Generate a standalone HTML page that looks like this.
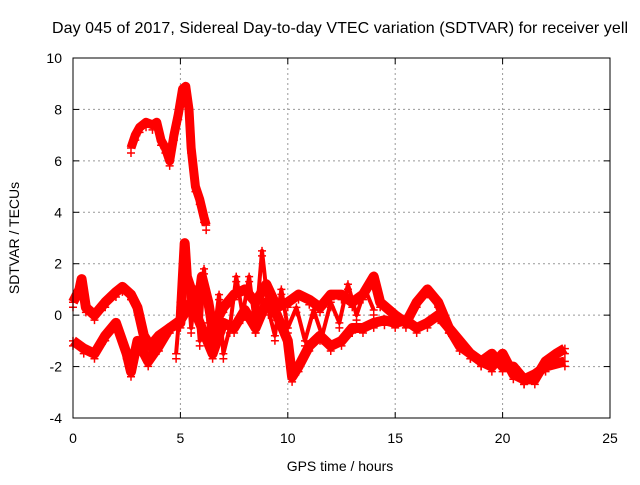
<!DOCTYPE html>
<html><head><meta charset="utf-8"><style>
body{margin:0;background:#fff}
svg text{font-family:"Liberation Sans",sans-serif;font-size:14px;fill:#000}
</style></head><body>
<svg id="chart" width="640" height="480" viewBox="0 0 640 480">
<rect width="640" height="480" fill="#fff"/>
<text x="340" y="33" text-anchor="middle" style="font-size:16px" textLength="576">Day 045 of 2017, Sidereal Day-to-day VTEC variation (SDTVAR) for receiver yell</text>
<g id="grid"></g>
<g id="series"></g>
<rect x="73" y="58" width="537" height="360" fill="none" stroke="#000" stroke-width="1"/>
<g id="ticks"></g>
<text x="340" y="471" text-anchor="middle">GPS time / hours</text>
<text transform="translate(19,238) rotate(-90)" text-anchor="middle">SDTVAR / TECUs</text>
</svg>
<script>
const xTicks=[0,5,10,15,20,25];
const yTicks=[-4,-2,0,2,4,6,8,10];
const band1T=[0,0.3,0.4,0.6,1,1.5,2,2.3,2.7,3,3.3,3.6,4,4.5,5,5.2,5.3,5.5,5.8,6,6.3,6.5,7,7.5,8,8.5,9,9.5,10,10.5,11,11.5,12,12.5,13,13.5,14,14.3,15,15.5,16,16.5,17,17.5,18,18.5,19,19.5,20,20.5,21,21.5,22,22.5,22.9];
const band1V=[0.5,1.0,1.4,0.3,0.0,0.5,0.9,1.1,0.8,0.3,-0.8,-1.2,-0.8,-0.5,-0.3,2.8,1.5,1.0,0.2,1.5,0.5,-0.5,0.3,0.8,1.0,0.5,1.2,0.3,0.5,0.8,0.6,0.3,0.8,0.8,0.5,0.8,1.5,0.5,0,-0.3,0.5,1.0,0.5,-0.5,-1.0,-1.5,-1.8,-1.5,-2.0,-2.0,-2.5,-2.5,-1.8,-1.5,-1.3];
const band2T=[0,0.5,1,1.5,2,2.5,2.7,3,3.5,4,4.5,5,5.5,6,6.5,7,7.5,8,8.5,9,9.5,10,10.2,10.5,11,11.5,12,12.5,13,13.5,14,14.5,15,15.5,16,16.5,17,17.5,18,18.5,19,19.5,20,20.5,21,21.5,22,22.9];
const band2V=[-1.0,-1.3,-1.5,-0.8,-0.3,-1.5,-2.2,-1.0,-1.8,-1.2,-0.5,-0.2,0.5,-0.5,-1.5,-0.3,-0.5,0.2,-0.5,0.5,0,-1.0,-2.4,-2.0,-1.2,-0.8,-1.2,-1.0,-0.5,-0.5,-0.3,-0.2,-0.3,-0.2,-0.5,-0.3,0.0,-0.5,-1.2,-1.5,-1.8,-2.0,-1.5,-2.3,-2.5,-2.3,-2.0,-1.8];
const band3T=[2.7,2.9,3.1,3.4,3.7,3.9,4.1,4.3,4.5,4.7,4.9,5.1,5.25,5.4,5.5,5.7,5.9,6.1,6.2];
const band3V=[6.5,7.0,7.3,7.5,7.4,7.5,6.8,6.5,6.0,7.0,7.8,8.8,8.9,8.0,6.5,5.0,4.5,3.8,3.5];
const band4T=[4.8,5.0,5.3,5.5,5.7,5.9,6.1,6.3,6.5,6.8,7.0,7.3,7.6,7.9,8.2,8.5,8.8,9.1,9.4,9.7,10.0,10.4,10.8,11.2,11.6,12.0,12.4,12.8,13.2,13.6,14.0];
const band4V=[-1.5,0.5,1.8,-0.5,1.0,-1.0,1.8,-0.3,-1.2,0.8,-1.5,-0.5,1.5,0.0,1.5,-0.5,2.5,0.2,-0.8,1.0,-0.5,0.3,-1.0,0.2,-0.8,0.5,-0.3,1.2,0.0,1.0,0.2];
const X=t=>73+t*537/25, Y=v=>418-(v+4)*360/14;
const NS='http://www.w3.org/2000/svg';
const grid=document.getElementById('grid'),ticks=document.getElementById('ticks'),series=document.getElementById('series');
function mk(tag,a,p){const e=document.createElementNS(NS,tag);for(const k in a)e.setAttribute(k,a[k]);p.appendChild(e);return e;}
xTicks.forEach(t=>{const x=X(t);
 if(t>0&&t<25){const g=mk('line',{x1:x,y1:58,x2:x,y2:418,stroke:'#999','stroke-dasharray':'2,3'},grid);
 
 }
 mk('line',{x1:x,y1:418,x2:x,y2:412,stroke:'#000'},ticks);mk('line',{x1:x,y1:58,x2:x,y2:64,stroke:'#000'},ticks);
 const l=mk('text',{x:x,y:443,'text-anchor':'middle'},ticks);l.textContent=t;
 
 });
yTicks.forEach(v=>{const y=Y(v);
 if(v>-4&&v<10){const g=mk('line',{x1:73,y1:y,x2:610,y2:y,stroke:'#999','stroke-dasharray':'2,3'},grid);
 
 }
 mk('line',{x1:73,y1:y,x2:79,y2:y,stroke:'#000'},ticks);mk('line',{x1:610,y1:y,x2:604,y2:y,stroke:'#000'},ticks);
 const l=mk('text',{x:62,y:y+5,'text-anchor':'end'},ticks);l.textContent=v;
 
 });
function band(T,V,name,w){
 const pts=T.map((t,i)=>X(t)+','+Y(V[i])).join(' ');
 const pl=mk('polyline',{points:pts,fill:'none',stroke:'#f00','stroke-width':w,'stroke-linejoin':'round'},series);
 
 
 T.forEach((t,i)=>{const x=X(t),y=Y(V[i]);
  const m=mk('path',{d:`M${x-4},${y}h8M${x},${y-4}v8M${x-4},${y+5}h8M${x},${y+1}v8`,stroke:'#f00','stroke-width':1.5},series);
  
  });
}
band(band4T,band4V,'series-band-scatter',4);
band(band1T,band1V,'series-band-upper',10);
band(band2T,band2V,'series-band-lower',10);
band(band3T,band3V,'series-band-peak',9);
</script>
</body></html>
